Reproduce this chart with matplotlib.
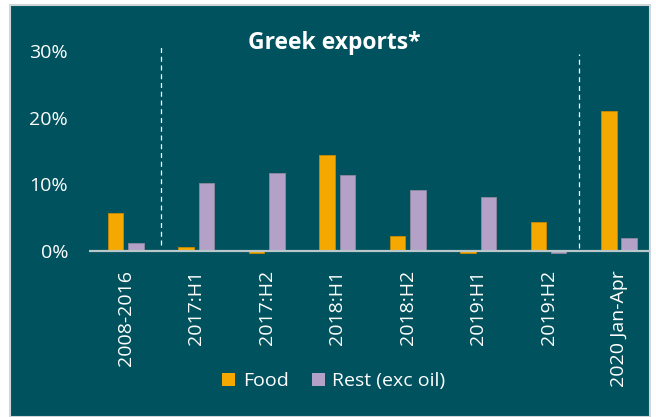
import matplotlib
matplotlib.use("Agg")
import matplotlib.pyplot as plt
from matplotlib.patches import Rectangle, Patch
import numpy as np

categories = ["2008-2016", "2017:H1", "2017:H2", "2018:H1", "2018:H2",
              "2019:H1", "2019:H2", "2020 Jan-Apr"]
food = [5.7, 0.55, -0.35, 14.5, 2.2, -0.3, 4.3, 21.1]
rest = [1.2, 10.3, 11.7, 11.5, 9.1, 8.1, -0.3, 1.9]
yticks = [0, 10, 20, 30]
ytick_labels = ["0%", "10%", "20%", "30%"]

TEAL = "#00525E"
ORANGE = "#F5A800"
PURPLE = "#B3A1C7"
FONT = "Open Sans"

plt.rcParams["font.family"] = [FONT, "DejaVu Sans"]

W, H = 656, 417
fig = plt.figure(figsize=(W / 100, H / 100), dpi=100)
fig.patch.set_facecolor("white")
bg = Rectangle((10 / W, 0), 640 / W, 1 - 5 / H, transform=fig.transFigure,
               facecolor=TEAL, edgecolor="#d0d6d8", linewidth=1.5, zorder=-10)
fig.add_artist(bg)

left_px, right_px = 89, 650
top_px, bot_px = 51.5, 257.65
ax = fig.add_axes([left_px / W, 1 - bot_px / H, (right_px - left_px) / W, (bot_px - top_px) / H])
ax.set_facecolor("none")
ax.set_zorder(1)

x = np.arange(len(categories))
w = 0.22
off = 0.145
ax.bar(x - off, food, w, color=ORANGE, edgecolor="#c98a00", linewidth=0.6, zorder=2, label="Food")
ax.bar(x + off, rest, w, color=PURPLE, edgecolor="#8f8aa0", linewidth=0.6, zorder=2, label="Rest (exc oil)")

ax.axhline(0, color="#b9c6ca", linewidth=1.6, zorder=3)

ax.vlines([0.5], 0.9, 30.7, colors="white", linestyles=(0, (4, 3)), linewidth=0.9, clip_on=False)
ax.vlines([6.43], 0.45, 29.6, colors="white", linestyles=(0, (4, 3)), linewidth=0.9, clip_on=False)

ax.set_xlim(-0.52, 7.44)
ax.set_ylim(-1, 30)
ax.set_yticks(yticks)
ax.set_yticklabels(ytick_labels)
ax.set_xticks(x)
ax.set_xticklabels(categories, rotation=90, va="top", ha="center")
ax.tick_params(axis="both", length=0, labelcolor="white", labelsize=14)
ax.tick_params(axis="y", pad=15)
ax.tick_params(axis="x", pad=9)
for s in ax.spines.values():
    s.set_visible(False)

fig.text(334 / W, 1 - 43 / H, "Greek exports*", color="white", fontsize=16.5,
         fontweight="bold", ha="center", va="center")

handles = [Patch(facecolor=ORANGE, edgecolor="none"), Patch(facecolor=PURPLE, edgecolor="none")]
leg = fig.legend(handles, ["Food", "Rest (exc oil)"], loc="center",
                 bbox_to_anchor=(334 / W, 1 - 381 / H), ncol=2, frameon=False,
                 fontsize=14, handlelength=0.65, handleheight=0.65, handletextpad=0.4,
                 columnspacing=1.2, labelcolor="white")

fig.savefig("out.png", dpi=100, facecolor=fig.get_facecolor())
